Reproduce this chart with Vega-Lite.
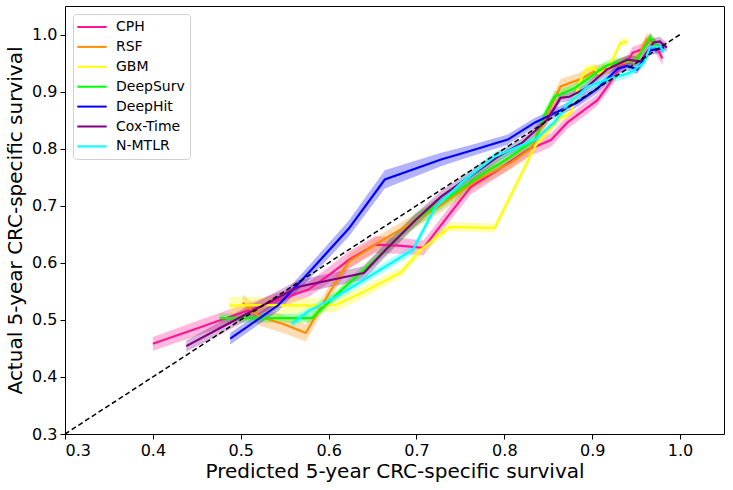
{
  "$schema": "https://vega.github.io/schema/vega-lite/v6.json",
  "width": 659,
  "height": 428,
  "autosize": {"type": "none"},
  "padding": {"left": 65, "top": 6, "right": 9, "bottom": 56},
  "config": {
    "font": "DejaVu Sans",
    "view": {"stroke": "black", "strokeWidth": 1},
    "axis": {
      "domain": false,
      "grid": false,
      "ticks": true,
      "tickColor": "black",
      "tickSize": 5,
      "labelFont": "DejaVu Sans",
      "labelFontSize": 16,
      "labelColor": "black",
      "labelPadding": 3,
      "titleFont": "DejaVu Sans",
      "titleFontSize": 20,
      "titleFontWeight": "normal",
      "titleColor": "black"
    },
    "axisX": {"titlePadding": 3},
    "axisY": {"titlePadding": 6}
  },
  "datasets": {
    "curves": [
      {"m": "CPH", "i": 1, "x": 0.400, "y": 0.458, "lo": 0.446, "hi": 0.470},
      {"m": "CPH", "i": 2, "x": 0.450, "y": 0.485, "lo": 0.472, "hi": 0.498},
      {"m": "CPH", "i": 3, "x": 0.500, "y": 0.512, "lo": 0.499, "hi": 0.525},
      {"m": "CPH", "i": 4, "x": 0.540, "y": 0.533, "lo": 0.520, "hi": 0.546},
      {"m": "CPH", "i": 5, "x": 0.577, "y": 0.553, "lo": 0.540, "hi": 0.566},
      {"m": "CPH", "i": 6, "x": 0.600, "y": 0.578, "lo": 0.564, "hi": 0.592},
      {"m": "CPH", "i": 7, "x": 0.623, "y": 0.605, "lo": 0.590, "hi": 0.620},
      {"m": "CPH", "i": 8, "x": 0.653, "y": 0.632, "lo": 0.617, "hi": 0.647},
      {"m": "CPH", "i": 9, "x": 0.680, "y": 0.630, "lo": 0.616, "hi": 0.644},
      {"m": "CPH", "i": 10, "x": 0.708, "y": 0.626, "lo": 0.613, "hi": 0.639},
      {"m": "CPH", "i": 11, "x": 0.735, "y": 0.680, "lo": 0.667, "hi": 0.693},
      {"m": "CPH", "i": 12, "x": 0.762, "y": 0.733, "lo": 0.720, "hi": 0.746},
      {"m": "CPH", "i": 13, "x": 0.793, "y": 0.763, "lo": 0.751, "hi": 0.775},
      {"m": "CPH", "i": 14, "x": 0.827, "y": 0.798, "lo": 0.786, "hi": 0.810},
      {"m": "CPH", "i": 15, "x": 0.853, "y": 0.815, "lo": 0.803, "hi": 0.827},
      {"m": "CPH", "i": 16, "x": 0.872, "y": 0.846, "lo": 0.835, "hi": 0.857},
      {"m": "CPH", "i": 17, "x": 0.891, "y": 0.868, "lo": 0.857, "hi": 0.879},
      {"m": "CPH", "i": 18, "x": 0.906, "y": 0.885, "lo": 0.875, "hi": 0.895},
      {"m": "CPH", "i": 19, "x": 0.920, "y": 0.915, "lo": 0.905, "hi": 0.925},
      {"m": "CPH", "i": 20, "x": 0.932, "y": 0.942, "lo": 0.932, "hi": 0.952},
      {"m": "CPH", "i": 21, "x": 0.940, "y": 0.953, "lo": 0.943, "hi": 0.963},
      {"m": "CPH", "i": 22, "x": 0.946, "y": 0.968, "lo": 0.958, "hi": 0.978},
      {"m": "CPH", "i": 23, "x": 0.958, "y": 0.975, "lo": 0.965, "hi": 0.985},
      {"m": "CPH", "i": 24, "x": 0.966, "y": 0.993, "lo": 0.983, "hi": 1.003},
      {"m": "CPH", "i": 25, "x": 0.974, "y": 0.975, "lo": 0.963, "hi": 0.987},
      {"m": "CPH", "i": 26, "x": 0.980, "y": 0.958, "lo": 0.946, "hi": 0.970},

      {"m": "RSF", "i": 1, "x": 0.502, "y": 0.530, "lo": 0.515, "hi": 0.545},
      {"m": "RSF", "i": 2, "x": 0.521, "y": 0.506, "lo": 0.490, "hi": 0.522},
      {"m": "RSF", "i": 3, "x": 0.550, "y": 0.492, "lo": 0.476, "hi": 0.508},
      {"m": "RSF", "i": 4, "x": 0.574, "y": 0.477, "lo": 0.462, "hi": 0.492},
      {"m": "RSF", "i": 5, "x": 0.600, "y": 0.545, "lo": 0.532, "hi": 0.558},
      {"m": "RSF", "i": 6, "x": 0.623, "y": 0.602, "lo": 0.590, "hi": 0.614},
      {"m": "RSF", "i": 7, "x": 0.653, "y": 0.632, "lo": 0.620, "hi": 0.644},
      {"m": "RSF", "i": 8, "x": 0.687, "y": 0.663, "lo": 0.651, "hi": 0.675},
      {"m": "RSF", "i": 9, "x": 0.725, "y": 0.698, "lo": 0.686, "hi": 0.710},
      {"m": "RSF", "i": 10, "x": 0.770, "y": 0.746, "lo": 0.734, "hi": 0.758},
      {"m": "RSF", "i": 11, "x": 0.807, "y": 0.775, "lo": 0.763, "hi": 0.787},
      {"m": "RSF", "i": 12, "x": 0.830, "y": 0.800, "lo": 0.788, "hi": 0.812},
      {"m": "RSF", "i": 13, "x": 0.845, "y": 0.845, "lo": 0.832, "hi": 0.858},
      {"m": "RSF", "i": 14, "x": 0.853, "y": 0.874, "lo": 0.861, "hi": 0.887},
      {"m": "RSF", "i": 15, "x": 0.864, "y": 0.909, "lo": 0.896, "hi": 0.922},
      {"m": "RSF", "i": 16, "x": 0.887, "y": 0.922, "lo": 0.910, "hi": 0.934},
      {"m": "RSF", "i": 17, "x": 0.902, "y": 0.935, "lo": 0.924, "hi": 0.946},
      {"m": "RSF", "i": 18, "x": 0.917, "y": 0.940, "lo": 0.930, "hi": 0.950},
      {"m": "RSF", "i": 19, "x": 0.935, "y": 0.950, "lo": 0.940, "hi": 0.960},
      {"m": "RSF", "i": 20, "x": 0.950, "y": 0.955, "lo": 0.945, "hi": 0.965},
      {"m": "RSF", "i": 21, "x": 0.962, "y": 0.992, "lo": 0.982, "hi": 1.002},
      {"m": "RSF", "i": 22, "x": 0.970, "y": 0.982, "lo": 0.972, "hi": 0.992},
      {"m": "RSF", "i": 23, "x": 0.978, "y": 0.975, "lo": 0.965, "hi": 0.985},

      {"m": "GBM", "i": 1, "x": 0.487, "y": 0.525, "lo": 0.510, "hi": 0.540},
      {"m": "GBM", "i": 2, "x": 0.530, "y": 0.526, "lo": 0.512, "hi": 0.540},
      {"m": "GBM", "i": 3, "x": 0.577, "y": 0.525, "lo": 0.512, "hi": 0.538},
      {"m": "GBM", "i": 4, "x": 0.608, "y": 0.526, "lo": 0.514, "hi": 0.538},
      {"m": "GBM", "i": 5, "x": 0.645, "y": 0.553, "lo": 0.543, "hi": 0.563},
      {"m": "GBM", "i": 6, "x": 0.683, "y": 0.584, "lo": 0.576, "hi": 0.592},
      {"m": "GBM", "i": 7, "x": 0.705, "y": 0.623, "lo": 0.615, "hi": 0.631},
      {"m": "GBM", "i": 8, "x": 0.738, "y": 0.663, "lo": 0.655, "hi": 0.671},
      {"m": "GBM", "i": 9, "x": 0.789, "y": 0.661, "lo": 0.653, "hi": 0.669},
      {"m": "GBM", "i": 10, "x": 0.835, "y": 0.804, "lo": 0.797, "hi": 0.811},
      {"m": "GBM", "i": 11, "x": 0.861, "y": 0.851, "lo": 0.844, "hi": 0.858},
      {"m": "GBM", "i": 12, "x": 0.876, "y": 0.863, "lo": 0.856, "hi": 0.870},
      {"m": "GBM", "i": 13, "x": 0.880, "y": 0.886, "lo": 0.879, "hi": 0.893},
      {"m": "GBM", "i": 14, "x": 0.887, "y": 0.921, "lo": 0.914, "hi": 0.928},
      {"m": "GBM", "i": 15, "x": 0.893, "y": 0.939, "lo": 0.932, "hi": 0.946},
      {"m": "GBM", "i": 16, "x": 0.902, "y": 0.942, "lo": 0.935, "hi": 0.949},
      {"m": "GBM", "i": 17, "x": 0.907, "y": 0.932, "lo": 0.925, "hi": 0.939},
      {"m": "GBM", "i": 18, "x": 0.917, "y": 0.938, "lo": 0.931, "hi": 0.945},
      {"m": "GBM", "i": 19, "x": 0.926, "y": 0.965, "lo": 0.958, "hi": 0.972},
      {"m": "GBM", "i": 20, "x": 0.932, "y": 0.985, "lo": 0.978, "hi": 0.992},
      {"m": "GBM", "i": 21, "x": 0.940, "y": 0.988, "lo": 0.981, "hi": 0.995},

      {"m": "DeepSurv", "i": 1, "x": 0.476, "y": 0.503, "lo": 0.495, "hi": 0.511},
      {"m": "DeepSurv", "i": 2, "x": 0.530, "y": 0.503, "lo": 0.495, "hi": 0.511},
      {"m": "DeepSurv", "i": 3, "x": 0.581, "y": 0.503, "lo": 0.495, "hi": 0.511},
      {"m": "DeepSurv", "i": 4, "x": 0.615, "y": 0.553, "lo": 0.545, "hi": 0.561},
      {"m": "DeepSurv", "i": 5, "x": 0.653, "y": 0.605, "lo": 0.596, "hi": 0.614},
      {"m": "DeepSurv", "i": 6, "x": 0.699, "y": 0.675, "lo": 0.663, "hi": 0.687},
      {"m": "DeepSurv", "i": 7, "x": 0.733, "y": 0.711, "lo": 0.699, "hi": 0.723},
      {"m": "DeepSurv", "i": 8, "x": 0.778, "y": 0.758, "lo": 0.748, "hi": 0.768},
      {"m": "DeepSurv", "i": 9, "x": 0.807, "y": 0.786, "lo": 0.777, "hi": 0.795},
      {"m": "DeepSurv", "i": 10, "x": 0.835, "y": 0.816, "lo": 0.807, "hi": 0.825},
      {"m": "DeepSurv", "i": 11, "x": 0.846, "y": 0.860, "lo": 0.851, "hi": 0.869},
      {"m": "DeepSurv", "i": 12, "x": 0.857, "y": 0.891, "lo": 0.882, "hi": 0.900},
      {"m": "DeepSurv", "i": 13, "x": 0.880, "y": 0.906, "lo": 0.898, "hi": 0.914},
      {"m": "DeepSurv", "i": 14, "x": 0.898, "y": 0.926, "lo": 0.918, "hi": 0.934},
      {"m": "DeepSurv", "i": 15, "x": 0.914, "y": 0.944, "lo": 0.936, "hi": 0.952},
      {"m": "DeepSurv", "i": 16, "x": 0.925, "y": 0.950, "lo": 0.942, "hi": 0.958},
      {"m": "DeepSurv", "i": 17, "x": 0.951, "y": 0.956, "lo": 0.948, "hi": 0.964},
      {"m": "DeepSurv", "i": 18, "x": 0.963, "y": 0.986, "lo": 0.978, "hi": 0.994},
      {"m": "DeepSurv", "i": 19, "x": 0.966, "y": 0.995, "lo": 0.987, "hi": 1.003},
      {"m": "DeepSurv", "i": 20, "x": 0.974, "y": 0.979, "lo": 0.971, "hi": 0.987},

      {"m": "DeepHit", "i": 1, "x": 0.488, "y": 0.467, "lo": 0.457, "hi": 0.477},
      {"m": "DeepHit", "i": 2, "x": 0.543, "y": 0.526, "lo": 0.516, "hi": 0.536},
      {"m": "DeepHit", "i": 3, "x": 0.577, "y": 0.582, "lo": 0.570, "hi": 0.594},
      {"m": "DeepHit", "i": 4, "x": 0.623, "y": 0.660, "lo": 0.646, "hi": 0.674},
      {"m": "DeepHit", "i": 5, "x": 0.664, "y": 0.746, "lo": 0.730, "hi": 0.762},
      {"m": "DeepHit", "i": 6, "x": 0.728, "y": 0.781, "lo": 0.769, "hi": 0.793},
      {"m": "DeepHit", "i": 7, "x": 0.759, "y": 0.795, "lo": 0.785, "hi": 0.805},
      {"m": "DeepHit", "i": 8, "x": 0.804, "y": 0.816, "lo": 0.807, "hi": 0.825},
      {"m": "DeepHit", "i": 9, "x": 0.835, "y": 0.846, "lo": 0.838, "hi": 0.854},
      {"m": "DeepHit", "i": 10, "x": 0.861, "y": 0.865, "lo": 0.857, "hi": 0.873},
      {"m": "DeepHit", "i": 11, "x": 0.883, "y": 0.881, "lo": 0.873, "hi": 0.889},
      {"m": "DeepHit", "i": 12, "x": 0.906, "y": 0.905, "lo": 0.897, "hi": 0.913},
      {"m": "DeepHit", "i": 13, "x": 0.929, "y": 0.940, "lo": 0.932, "hi": 0.948},
      {"m": "DeepHit", "i": 14, "x": 0.940, "y": 0.945, "lo": 0.937, "hi": 0.953},
      {"m": "DeepHit", "i": 15, "x": 0.951, "y": 0.939, "lo": 0.931, "hi": 0.947},
      {"m": "DeepHit", "i": 16, "x": 0.966, "y": 0.972, "lo": 0.964, "hi": 0.980},
      {"m": "DeepHit", "i": 17, "x": 0.982, "y": 0.977, "lo": 0.969, "hi": 0.985},

      {"m": "Cox-Time", "i": 1, "x": 0.438, "y": 0.454, "lo": 0.444, "hi": 0.464},
      {"m": "Cox-Time", "i": 2, "x": 0.500, "y": 0.505, "lo": 0.493, "hi": 0.517},
      {"m": "Cox-Time", "i": 3, "x": 0.566, "y": 0.558, "lo": 0.546, "hi": 0.570},
      {"m": "Cox-Time", "i": 4, "x": 0.640, "y": 0.582, "lo": 0.570, "hi": 0.594},
      {"m": "Cox-Time", "i": 5, "x": 0.665, "y": 0.623, "lo": 0.611, "hi": 0.635},
      {"m": "Cox-Time", "i": 6, "x": 0.699, "y": 0.675, "lo": 0.664, "hi": 0.686},
      {"m": "Cox-Time", "i": 7, "x": 0.728, "y": 0.716, "lo": 0.706, "hi": 0.726},
      {"m": "Cox-Time", "i": 8, "x": 0.767, "y": 0.758, "lo": 0.749, "hi": 0.767},
      {"m": "Cox-Time", "i": 9, "x": 0.793, "y": 0.786, "lo": 0.777, "hi": 0.795},
      {"m": "Cox-Time", "i": 10, "x": 0.820, "y": 0.810, "lo": 0.802, "hi": 0.818},
      {"m": "Cox-Time", "i": 11, "x": 0.849, "y": 0.851, "lo": 0.843, "hi": 0.859},
      {"m": "Cox-Time", "i": 12, "x": 0.864, "y": 0.889, "lo": 0.881, "hi": 0.897},
      {"m": "Cox-Time", "i": 13, "x": 0.874, "y": 0.891, "lo": 0.883, "hi": 0.899},
      {"m": "Cox-Time", "i": 14, "x": 0.891, "y": 0.904, "lo": 0.896, "hi": 0.912},
      {"m": "Cox-Time", "i": 15, "x": 0.917, "y": 0.939, "lo": 0.931, "hi": 0.947},
      {"m": "Cox-Time", "i": 16, "x": 0.940, "y": 0.956, "lo": 0.948, "hi": 0.964},
      {"m": "Cox-Time", "i": 17, "x": 0.955, "y": 0.953, "lo": 0.945, "hi": 0.961},
      {"m": "Cox-Time", "i": 18, "x": 0.970, "y": 0.986, "lo": 0.978, "hi": 0.994},
      {"m": "Cox-Time", "i": 19, "x": 0.977, "y": 0.988, "lo": 0.980, "hi": 0.996},
      {"m": "Cox-Time", "i": 20, "x": 0.985, "y": 0.977, "lo": 0.969, "hi": 0.985},

      {"m": "N-MTLR", "i": 1, "x": 0.558, "y": 0.493, "lo": 0.485, "hi": 0.501},
      {"m": "N-MTLR", "i": 2, "x": 0.577, "y": 0.515, "lo": 0.507, "hi": 0.523},
      {"m": "N-MTLR", "i": 3, "x": 0.608, "y": 0.540, "lo": 0.532, "hi": 0.548},
      {"m": "N-MTLR", "i": 4, "x": 0.657, "y": 0.586, "lo": 0.578, "hi": 0.594},
      {"m": "N-MTLR", "i": 5, "x": 0.696, "y": 0.623, "lo": 0.615, "hi": 0.631},
      {"m": "N-MTLR", "i": 6, "x": 0.721, "y": 0.696, "lo": 0.688, "hi": 0.704},
      {"m": "N-MTLR", "i": 7, "x": 0.751, "y": 0.740, "lo": 0.732, "hi": 0.748},
      {"m": "N-MTLR", "i": 8, "x": 0.789, "y": 0.786, "lo": 0.778, "hi": 0.794},
      {"m": "N-MTLR", "i": 9, "x": 0.835, "y": 0.816, "lo": 0.808, "hi": 0.824},
      {"m": "N-MTLR", "i": 10, "x": 0.857, "y": 0.846, "lo": 0.838, "hi": 0.854},
      {"m": "N-MTLR", "i": 11, "x": 0.872, "y": 0.877, "lo": 0.869, "hi": 0.885},
      {"m": "N-MTLR", "i": 12, "x": 0.895, "y": 0.909, "lo": 0.901, "hi": 0.917},
      {"m": "N-MTLR", "i": 13, "x": 0.917, "y": 0.921, "lo": 0.913, "hi": 0.929},
      {"m": "N-MTLR", "i": 14, "x": 0.943, "y": 0.933, "lo": 0.925, "hi": 0.941},
      {"m": "N-MTLR", "i": 15, "x": 0.959, "y": 0.951, "lo": 0.943, "hi": 0.959},
      {"m": "N-MTLR", "i": 16, "x": 0.966, "y": 0.979, "lo": 0.971, "hi": 0.987},
      {"m": "N-MTLR", "i": 17, "x": 0.977, "y": 0.979, "lo": 0.971, "hi": 0.987},
      {"m": "N-MTLR", "i": 18, "x": 0.982, "y": 0.970, "lo": 0.962, "hi": 0.978}
    ],
    "diag": [
      {"x": 0.3, "y": 0.3},
      {"x": 1.0, "y": 1.0}
    ]
  },
  "encoding": {
    "color": {"field": "m", "type": "nominal",
              "scale": {"domain": ["CPH", "RSF", "GBM", "DeepSurv", "DeepHit", "Cox-Time", "N-MTLR"],
                        "range": ["#FF1493", "#FF8C00", "#FFFF00", "#00FF00", "#0000FF", "#800080", "#00FFFF"]},
              "legend": {
                "orient": "none",
                "legendX": 8,
                "legendY": 8,
                "title": null,
                "symbolType": "M-2.1,0H2.1",
                "symbolSize": 196,
                "symbolStrokeWidth": 2,
                "symbolOpacity": 1,
                "symbolOffset": 6,
                "labelOffset": 16,
                "labelFont": "DejaVu Sans",
                "labelFontSize": 14,
                "labelColor": "black",
                "rowPadding": 4.9,
                "padding": 5,
                "strokeColor": "#d0d0d0",
                "fillColor": "white",
                "cornerRadius": 3
              }}
  },
  "layer": [
    {
      "data": {"name": "curves"},
      "mark": {"type": "area", "opacity": 0.3},
      "encoding": {
        "x": {"field": "x", "type": "quantitative", "scale": {"domain": [0.3, 1.05], "nice": false, "zero": false},
              "axis": {"values": [0.3, 0.4, 0.5, 0.6, 0.7, 0.8, 0.9, 1.0], "format": ".1f"},
              "title": "Predicted 5-year CRC-specific survival"},
        "y": {"field": "lo", "type": "quantitative", "scale": {"domain": [0.3, 1.05], "nice": false, "zero": false},
              "axis": {"values": [0.3, 0.4, 0.5, 0.6, 0.7, 0.8, 0.9, 1.0], "format": ".1f"},
              "title": "Actual 5-year CRC-specific survival"},
        "y2": {"field": "hi"}
      }
    },
    {
      "data": {"name": "curves"},
      "mark": {"type": "line", "strokeWidth": 2.2},
      "encoding": {
        "x": {"field": "x", "type": "quantitative"},
        "y": {"field": "y", "type": "quantitative"},
        "order": {"field": "i"}
      }
    },
    {
      "data": {"name": "diag"},
      "mark": {"type": "line", "color": "black", "strokeDash": [5, 3], "strokeWidth": 1.5},
      "encoding": {
        "x": {"field": "x", "type": "quantitative"},
        "y": {"field": "y", "type": "quantitative"},
        "color": {"value": "black"}
      }
    }
  ]
}
